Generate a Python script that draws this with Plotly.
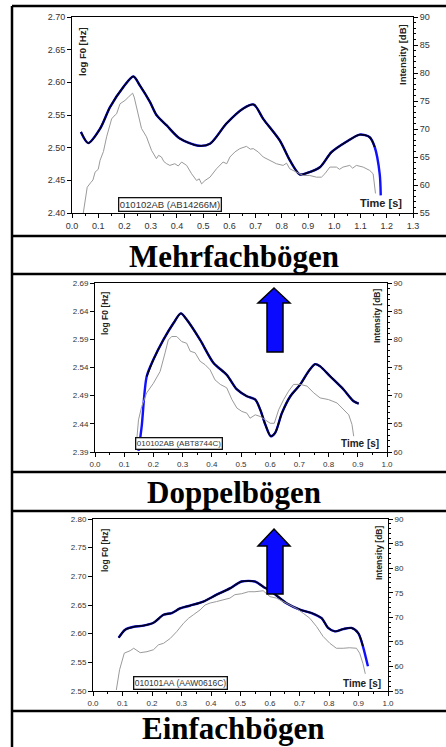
import plotly.graph_objects as go

W, H = 446, 747

# ---------------- data ----------------
# Panel 1: Mehrfachbögen
p1_f0_t = [0.034, 0.062, 0.107, 0.145, 0.196, 0.234, 0.259, 0.297, 0.322, 0.361, 0.411, 0.481, 0.526,
           0.589, 0.653, 0.693, 0.729, 0.792, 0.830, 0.868, 0.894, 0.945, 0.989, 1.046, 1.097, 1.135,
           1.154, 1.173, 1.177]
p1_f0 = [2.524, 2.507, 2.529, 2.562, 2.593, 2.609, 2.595, 2.570, 2.550, 2.534, 2.514, 2.503, 2.506,
         2.537, 2.560, 2.566, 2.544, 2.511, 2.481, 2.459, 2.461, 2.470, 2.493, 2.509, 2.520, 2.516,
         2.501, 2.460, 2.427]
p1_int_t = [0.043, 0.058, 0.071, 0.080, 0.088, 0.100, 0.107, 0.120, 0.132, 0.151, 0.160, 0.170, 0.183,
            0.195, 0.202, 0.215, 0.223, 0.231, 0.237, 0.253, 0.265, 0.284, 0.303, 0.322, 0.330, 0.341,
            0.350, 0.361, 0.373, 0.392, 0.405, 0.418, 0.437, 0.456, 0.475, 0.485, 0.494, 0.507, 0.526,
            0.551, 0.576, 0.590, 0.602, 0.621, 0.640, 0.665, 0.680, 0.691, 0.710, 0.729, 0.754, 0.779,
            0.805, 0.818, 0.830, 0.856, 0.881, 0.906, 0.932, 0.951, 0.964, 0.983, 1.008, 1.020, 1.033,
            1.059, 1.070, 1.084, 1.110, 1.135, 1.148, 1.157]
p1_int = [55.0, 59.6, 60.4, 60.9, 62.3, 62.8, 64.4, 66.0, 68.6, 71.8, 72.3, 72.7, 74.5,
          74.8, 75.1, 75.7, 76.0, 76.4, 75.7, 72.4, 70.1, 68.6, 66.2, 64.7, 65.3, 65.0,
          64.2, 63.8, 63.5, 63.8, 63.4, 64.1, 63.5, 62.0, 60.8, 61.1, 60.2, 60.8, 61.4,
          62.9, 64.1, 63.8, 65.0, 65.9, 66.5, 66.9, 66.4, 66.5, 65.9, 65.0, 64.4, 63.8,
          63.5, 63.9, 62.9, 62.3, 61.7, 61.7, 61.4, 61.4, 62.0, 63.2, 63.2, 62.8, 63.2,
          63.5, 63.0, 63.5, 63.2, 62.6, 62.0, 58.5]

# Panel 2: Doppelbögen
p2_f0_t = [0.149, 0.160, 0.177, 0.200, 0.234, 0.269, 0.294, 0.314, 0.360, 0.406, 0.451, 0.486, 0.520,
           0.549, 0.566, 0.583, 0.602, 0.617, 0.640, 0.669, 0.703, 0.731, 0.754, 0.771, 0.806, 0.851,
           0.886, 0.903]
p2_f0 = [2.392, 2.436, 2.524, 2.554, 2.589, 2.619, 2.636, 2.625, 2.589, 2.548, 2.527, 2.501, 2.489,
         2.483, 2.465, 2.439, 2.418, 2.424, 2.459, 2.489, 2.510, 2.533, 2.546, 2.542, 2.524, 2.501,
         2.480, 2.476]
p2_int_t = [0.143, 0.149, 0.160, 0.177, 0.200, 0.223, 0.240, 0.251, 0.263, 0.280, 0.297, 0.314, 0.326,
            0.343, 0.360, 0.377, 0.394, 0.411, 0.429, 0.451, 0.469, 0.486, 0.503, 0.520, 0.531, 0.549,
            0.566, 0.583, 0.600, 0.614, 0.629, 0.646, 0.663, 0.680, 0.703, 0.726, 0.749, 0.771, 0.800,
            0.829, 0.851, 0.869, 0.880, 0.886]
p2_int = [62.2, 65.7, 68.1, 70.5, 72.2, 74.3, 77.6, 79.9, 80.5, 80.5, 79.6, 79.3, 77.9,
          77.6, 76.1, 75.5, 74.6, 72.8, 72.0, 71.4, 69.3, 67.8, 67.2, 66.9, 66.0, 66.6,
          66.3, 65.7, 65.1, 65.1, 67.5, 69.3, 70.8, 72.0, 72.0, 71.7, 70.5, 69.6, 69.3,
          68.7, 67.5, 66.6, 64.9, 62.8]

# Panel 3: Einfachbögen
p3_f0_t = [0.087, 0.109, 0.138, 0.171, 0.205, 0.239, 0.267, 0.295, 0.329, 0.374, 0.419, 0.464, 0.504,
           0.549, 0.577, 0.611, 0.656, 0.701, 0.741, 0.775, 0.797, 0.820, 0.848, 0.876, 0.899, 0.915,
           0.932]
p3_f0 = [2.593, 2.607, 2.612, 2.614, 2.619, 2.633, 2.636, 2.644, 2.649, 2.656, 2.668, 2.679, 2.691,
         2.691, 2.682, 2.671, 2.653, 2.642, 2.636, 2.627, 2.610, 2.604, 2.608, 2.610, 2.601, 2.578,
         2.543]
p3_int_t = [0.079, 0.090, 0.106, 0.126, 0.138, 0.160, 0.183, 0.205, 0.222, 0.239, 0.262, 0.284, 0.307,
            0.324, 0.340, 0.363, 0.380, 0.397, 0.419, 0.442, 0.464, 0.481, 0.504, 0.527, 0.549, 0.577,
            0.600, 0.622, 0.645, 0.667, 0.690, 0.713, 0.735, 0.758, 0.780, 0.803, 0.825, 0.848, 0.870,
            0.893, 0.904, 0.915, 0.923]
p3_int = [55.2, 59.3, 62.7, 63.2, 63.7, 62.8, 63.0, 63.4, 64.4, 64.7, 65.7, 67.1, 68.8,
          69.8, 70.5, 71.5, 72.5, 72.9, 73.2, 73.5, 73.9, 74.6, 74.8, 75.2, 75.2, 75.4,
          74.2, 73.9, 73.2, 72.5, 71.8, 70.8, 69.8, 68.1, 66.1, 64.7, 63.7, 63.7, 63.8,
          63.7, 62.7, 60.6, 58.5]

titles = ["Mehrfachbögen", "Doppelbögen", "Einfachbögen"]
codes = ["010102AB (AB14266M)", "010102AB (ABT8744C)", "010101AA (AAW0616C)"]
f0_ranges = [(2.40, 2.70), (2.39, 2.69), (2.50, 2.80)]
int_ranges = [(55, 90), (60, 90), (55, 90)]
x_ranges = [(0.0, 1.3), (0.0, 1.0), (0.0, 1.0)]

panels = [
    dict(t=p1_f0_t, f=p1_f0, it=p1_int_t, iv=p1_int, black=(0, 26)),
    dict(t=p2_f0_t, f=p2_f0, it=p2_int_t, iv=p2_int, black=(2, 28)),
    dict(t=p3_f0_t, f=p3_f0, it=p3_int_t, iv=p3_int, black=(0, 25)),
]

# ---------------- layout (pixel geometry) ----------------
plot_px = [  # x0, x1, y_top, y_bottom
    (72, 413, 17, 213),
    (95, 387, 283, 452),
    (93, 388, 519, 691),
]
fs = [9, 8, 8]


def px(x):
    return x / W


def py(y):
    return 1 - y / H


fig = go.Figure()
layout = dict(
    width=W, height=H, margin=dict(l=0, r=0, t=0, b=0, pad=0, autoexpand=False),
    paper_bgcolor="white", plot_bgcolor="white", showlegend=False,
    font=dict(family="Liberation Sans, Arial, sans-serif", color="#222"),
)
shapes = []
annotations = []

for i, p in enumerate(panels):
    xn = "x" if i == 0 else f"x{i + 1}"
    yl = f"y{2 * i + 1}" if i > 0 else "y"
    yr = f"y{2 * i + 2}"
    xk = "xaxis" if i == 0 else f"xaxis{i + 1}"
    ylk = "yaxis" if i == 0 else f"yaxis{2 * i + 1}"
    yrk = f"yaxis{2 * i + 2}"
    x0, x1, yt, yb = plot_px[i]
    f0lo, f0hi = f0_ranges[i]
    tickfont = dict(size=fs[i], color="#333")

    layout[xk] = dict(domain=[px(x0), px(x1)], anchor=yl, range=list(x_ranges[i]),
                      dtick=0.1, tick0=0, tickformat=".1f", ticks="outside", ticklen=4,
                      tickcolor="black", showline=True, linecolor="black", linewidth=1,
                      mirror=True, showgrid=False, zeroline=False, tickfont=tickfont,
                      automargin=False, fixedrange=True,
                      minor=dict(dtick=0.05, ticks="outside", ticklen=2, tickcolor="black"))
    layout[ylk] = dict(domain=[py(yb), py(yt)], anchor=xn, range=[f0lo, f0hi],
                       tickvals=[round(f0lo + 0.05 * k, 2) for k in range(7)], tickformat=".2f",
                       ticks="outside", ticklen=4, tickcolor="black", showline=True,
                       linecolor="black", linewidth=1, showgrid=False, zeroline=False,
                       tickfont=tickfont, automargin=False, fixedrange=True)
    layout[yrk] = dict(overlaying=yl, side="right", anchor=xn, range=list(int_ranges[i]),
                       dtick=5, ticks="outside", ticklen=4, tickcolor="black", showline=True,
                       linecolor="black", linewidth=1, showgrid=False, zeroline=False,
                       tickfont=tickfont, automargin=False, fixedrange=True,
                       minor=dict(dtick=1, ticks="outside", ticklen=2, tickcolor="black"))

    # intensity (grey)
    fig.add_trace(go.Scatter(x=p["it"], y=p["iv"], xaxis=xn, yaxis=yr, mode="lines",
                             line=dict(color="#9a9a9a", width=1), hoverinfo="skip"))
    # F0 (blue underlay + dark overlay)
    fig.add_trace(go.Scatter(x=p["t"], y=p["f"], xaxis=xn, yaxis=yl, mode="lines",
                             line=dict(color="#1010ff", width=2.4, shape="spline", smoothing=0.8),
                             hoverinfo="skip"))
    a, b = p["black"]
    fig.add_trace(go.Scatter(x=p["t"][a:b + 1], y=p["f"][a:b + 1], xaxis=xn, yaxis=yl, mode="lines",
                             line=dict(color="#000022", width=1.8, shape="spline", smoothing=0.8),
                             hoverinfo="skip"))

# text inside plots
axis_titles = [
    ((83, 52), (402, 55)),
    ((105, 313), (377, 316)),
    ((105, 550), (379, 553)),
]
time_pos = [(381, 203), (360, 444), (362, 683)]
code_pos = [(170, 204), (179, 444), (180, 683)]
label_size = [9.5, 8.5, 8.5]
time_size = [11, 10, 10]
code_size = [9.5, 8, 8.5]


def ann(x, y, text, **kw):
    d = dict(x=px(x), y=py(y), xref="paper", yref="paper", text=text, showarrow=False,
             xanchor="center", yanchor="middle")
    d.update(kw)
    annotations.append(d)


for i in range(3):
    (lx, ly), (rx, ry) = axis_titles[i]
    ann(lx, ly, "<b>log F0 [Hz]</b>", textangle=-90, font=dict(size=label_size[i], color="#222"))
    ann(rx, ry, "<b>Intensity [dB]</b>", textangle=-90, font=dict(size=label_size[i], color="#222"))
    tx, ty = time_pos[i]
    ann(tx, ty, "<b>Time [s]</b>", font=dict(size=time_size[i], color="#222"))
    cx, cy = code_pos[i]
    ann(cx, cy, codes[i], bordercolor="#111", borderwidth=1.3, borderpad=0.5, bgcolor="white",
        font=dict(size=code_size[i], color="#333"))

# big labels
label_y = [256, 492, 728]
for i in range(3):
    ann(234, label_y[i], f"<b>{titles[i]}</b>",
        font=dict(family="Liberation Serif, Times New Roman, serif", size=31, color="black"))

# table borders
lw = 2.5
shapes.append(dict(type="line", xref="paper", yref="paper", x0=px(12), x1=px(12), y0=py(6), y1=0,
                   line=dict(color="black", width=lw)))
for yy in [6, 236, 274, 472, 511, 711]:
    shapes.append(dict(type="line", xref="paper", yref="paper", x0=px(12), x1=1, y0=py(yy), y1=py(yy),
                       line=dict(color="black", width=lw)))

# blue arrows (panels 2 and 3)
arrows = [(288, 303, 352), (529, 546, 594)]
for top, hb, bot in arrows:
    pts = [(274, top), (290, hb), (283, hb), (283, bot), (267, bot), (267, hb), (258, hb)]
    path = "M " + " L ".join(f"{px(x):.5f},{py(y):.5f}" for x, y in pts) + " Z"
    shapes.append(dict(type="path", xref="paper", yref="paper", path=path,
                       fillcolor="#0a0aff", line=dict(color="black", width=1.5)))

layout["shapes"] = shapes
layout["annotations"] = annotations
fig.update_layout(**layout)
fig.write_html("out.html")
